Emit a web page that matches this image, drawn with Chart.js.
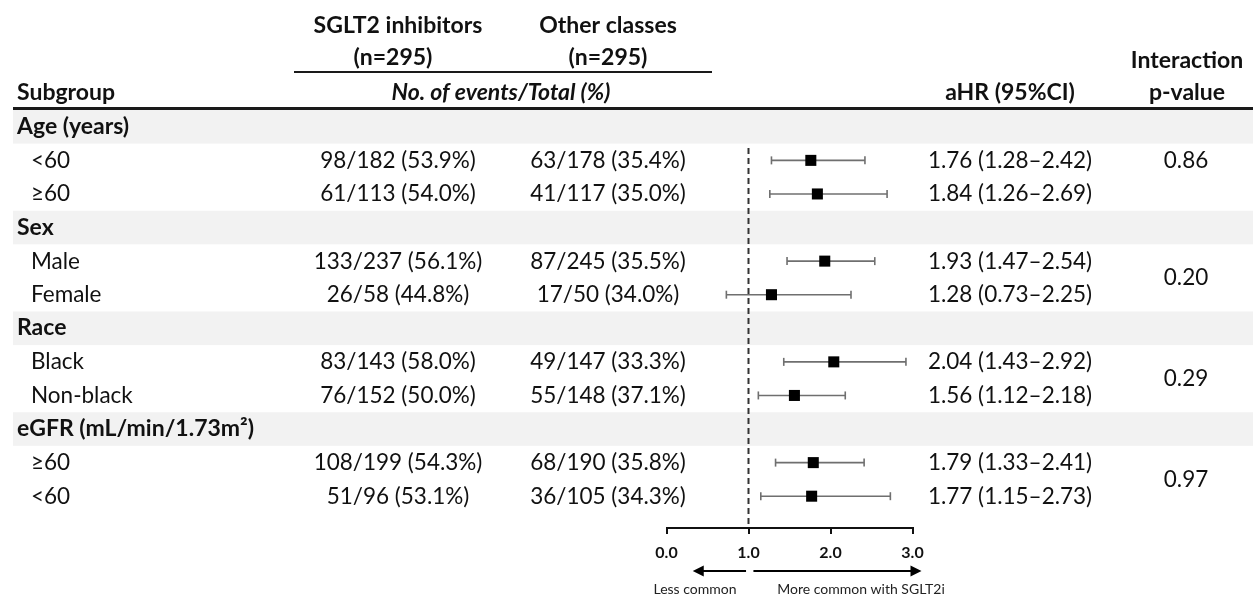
<!DOCTYPE html>
<html>
<head>
<meta charset="utf-8">
<script src="https://cdn.jsdelivr.net/npm/chart.js@4.4.1/dist/chart.umd.min.js"></script>
<style>
  html, body { margin: 0; padding: 0; background: #fff; }
  canvas { display: block; }
</style>
</head>
<body>
<canvas id="forest" width="1255" height="600"></canvas>
<script>
// Subgroup structure
const groups = ['Age (years)', 'Sex', 'Race', 'eGFR (mL/min/1.73m²)'];
const subgroups = ['<60', '≥60', 'Male', 'Female', 'Black', 'Non-black', '≥60', '<60'];

// SGLT2 inhibitors arm: events / total (%)
const sgltEvents = [98, 61, 133, 26, 83, 76, 108, 51];
const sgltTotal  = [182, 113, 237, 58, 143, 152, 199, 96];
const sgltPct    = [53.9, 54.0, 56.1, 44.8, 58.0, 50.0, 54.3, 53.1];

// Other classes arm: events / total (%)
const otherEvents = [63, 41, 87, 17, 49, 55, 68, 36];
const otherTotal  = [178, 117, 245, 50, 147, 148, 190, 105];
const otherPct    = [35.4, 35.0, 35.5, 34.0, 33.3, 37.1, 35.8, 34.3];

// Adjusted hazard ratios with 95% CI
const aHR   = [1.76, 1.84, 1.93, 1.28, 2.04, 1.56, 1.79, 1.77];
const ciLow = [1.28, 1.26, 1.47, 0.73, 1.43, 1.12, 1.33, 1.15];
const ciHigh= [2.42, 2.69, 2.54, 2.25, 2.92, 2.18, 2.41, 2.73];

// Interaction p-values, one per group
const pInteraction = ['0.86', '0.20', '0.29', '0.97'];

// Axis ticks
const xTicks = [0, 1, 2, 3];

// Each group takes three table rows: heading, then its two subgroups
const rowOfItem = k => 3 * Math.floor(k / 2) + 1 + (k % 2);
const Y_MAX = 12.447;   // extends a little below the last row down to the axis line

const INK = '#111';
const CI_COLOR = '#6f6f6f';
const FONT = 'Lato, "Open Sans", sans-serif';

const ciLines = aHR.map((v, k) => ({
  type: 'line',
  showLine: true,
  data: [{ x: ciLow[k], y: rowOfItem(k) + 0.5 }, { x: ciHigh[k], y: rowOfItem(k) + 0.5 }],
  borderColor: CI_COLOR,
  borderWidth: 1.6,
  pointRadius: 0,
  order: 3,
  clip: false
}));

const caps = {
  type: 'scatter',
  data: aHR.flatMap((v, k) => [
    { x: ciLow[k], y: rowOfItem(k) + 0.5 },
    { x: ciHigh[k], y: rowOfItem(k) + 0.5 }
  ]),
  pointStyle: 'line',
  pointRotation: 90,
  pointRadius: 4,
  borderColor: CI_COLOR,
  borderWidth: 1.6,
  order: 2,
  clip: false
};

const boxes = {
  type: 'scatter',
  data: aHR.map((v, k) => ({ x: v, y: rowOfItem(k) + 0.5 })),
  pointStyle: 'rect',
  pointRadius: 7.8,
  backgroundColor: '#000',
  borderWidth: 0,
  order: 1,
  clip: false
};

const nullLine = {
  type: 'line',
  showLine: true,
  data: [{ x: 1, y: 1.13 }, { x: 1, y: Y_MAX }],
  borderColor: '#333',
  borderWidth: 2,
  borderDash: [6, 4],
  pointRadius: 0,
  order: 4,
  clip: false
};

const tablePlugin = {
  id: 'forestTable',
  beforeDraw(chart) {
    const { ctx } = chart;
    const y = chart.scales.y;
    ctx.save();
    ctx.fillStyle = '#fff';
    ctx.fillRect(0, 0, chart.width, chart.height);
    // shaded group heading rows
    ctx.fillStyle = '#f2f2f2';
    groups.forEach((g, i) => {
      const t = y.getPixelForValue(3 * i);
      const b = y.getPixelForValue(3 * i + 1);
      ctx.fillRect(13, t, 1240, b - t);
    });
    ctx.restore();
  },
  afterDraw(chart) {
    const { ctx } = chart;
    const x = chart.scales.x;
    const y = chart.scales.y;
    const yc = r => y.getPixelForValue(r + 0.5);
    const put = (s, px, py, font, align) => {
      ctx.font = font;
      ctx.textAlign = align;
      ctx.fillText(s, px, py);
    };
    const F = `22.5px ${FONT}`;
    const FB = `bold 23px ${FONT}`;
    const FBI = `italic bold 23px ${FONT}`;

    ctx.save();
    ctx.fillStyle = INK;
    ctx.textBaseline = 'alphabetic';

    // column headings
    put('SGLT2 inhibitors', 398, 33, FB, 'center');
    put('(n=295)', 393, 65, FB, 'center');
    put('Other classes', 608, 33, FB, 'center');
    put('(n=295)', 608, 65, FB, 'center');
    put('No. of events/Total (%)', 501, 100, FBI, 'center');
    put('Subgroup', 17, 100, FB, 'left');
    put('aHR (95%CI)', 1010, 100, FB, 'center');
    put('Interaction', 1187, 68, FB, 'center');
    put('p-value', 1187, 100, FB, 'center');

    // rules under the headings
    ctx.strokeStyle = '#1a1a1a';
    ctx.lineWidth = 2;
    ctx.beginPath(); ctx.moveTo(294, 72); ctx.lineTo(712, 72); ctx.stroke();
    ctx.lineWidth = 3;
    ctx.beginPath(); ctx.moveTo(13, 108.5); ctx.lineTo(1253, 108.5); ctx.stroke();

    // group headings
    groups.forEach((g, i) => put(g, 17, yc(3 * i) + 7, FB, 'left'));

    // subgroup rows
    subgroups.forEach((s, k) => {
      const py = yc(rowOfItem(k)) + 7.5;
      put(s, 31, py, F, 'left');
      put(`${sgltEvents[k]}/${sgltTotal[k]} (${sgltPct[k].toFixed(1)}%)`, 398, py, F, 'center');
      put(`${otherEvents[k]}/${otherTotal[k]} (${otherPct[k].toFixed(1)}%)`, 608, py, F, 'center');
      put(`${aHR[k].toFixed(2)} (${ciLow[k].toFixed(2)}–${ciHigh[k].toFixed(2)})`, 1010, py, F, 'center');
    });

    // interaction p-values: the age value sits on its first row, the rest between both rows
    pInteraction.forEach((p, g) => {
      const first = rowOfItem(2 * g);
      const py = (g === 0 ? yc(first) : (yc(first) + yc(first + 1)) / 2) + 7.5;
      put(p, 1186, py, F, 'center');
    });

    // direction arrows under the axis
    const ay = 571;
    const arrow = (from, to) => {
      const x0 = x.getPixelForValue(from), x1 = x.getPixelForValue(to);
      const dir = Math.sign(x1 - x0);
      ctx.strokeStyle = '#000';
      ctx.fillStyle = '#000';
      ctx.lineWidth = 2;
      ctx.beginPath(); ctx.moveTo(x0, ay); ctx.lineTo(x1 - dir * 9, ay); ctx.stroke();
      ctx.beginPath();
      ctx.moveTo(x1, ay); ctx.lineTo(x1 - dir * 11, ay - 5.5); ctx.lineTo(x1 - dir * 11, ay + 5.5);
      ctx.closePath(); ctx.fill();
    };
    arrow(0.97, 0.32);
    arrow(1.06, 3.11);

    ctx.fillStyle = '#222';
    put('Less common', 695, 594, `14px ${FONT}`, 'center');
    put('More common with SGLT2i', 861, 594, `14px ${FONT}`, 'center');
    ctx.restore();
  }
};

new Chart(document.getElementById('forest'), {
  type: 'scatter',
  data: { datasets: [boxes, caps, ...ciLines, nullLine] },
  options: {
    responsive: false,
    animation: false,
    devicePixelRatio: 1,
    events: [],
    layout: { padding: { left: 666.5, right: 342.5, top: 110, bottom: 0 } },
    plugins: { legend: { display: false }, tooltip: { enabled: false } },
    scales: {
      x: {
        type: 'linear',
        min: 0,
        max: 3,
        afterBuildTicks: axis => { axis.ticks = xTicks.map(v => ({ value: v })); },
        afterFit: axis => { axis.height = 72; },
        ticks: {
          callback: v => v.toFixed(1),
          color: INK,
          padding: 9,
          font: { family: FONT, weight: 'bold', size: 16 }
        },
        grid: { drawOnChartArea: false, drawTicks: true, tickLength: 6, color: INK, lineWidth: 2 },
        border: { display: true, color: INK, width: 2 }
      },
      y: {
        type: 'linear',
        reverse: true,
        min: 0,
        max: Y_MAX,
        display: false
      }
    }
  },
  plugins: [tablePlugin]
});
</script>
</body>
</html>
